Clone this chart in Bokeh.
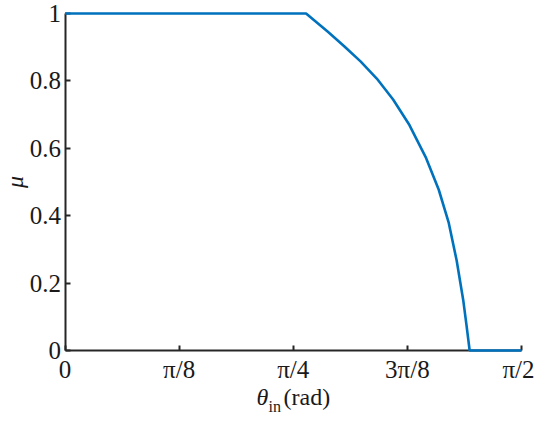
import math
from bokeh.plotting import figure
from bokeh.models import Range1d, FixedTicker, Label
from bokeh.embed import file_html
from bokeh.resources import INLINE

# data
theta = [0.0, 0.8295, 0.9045, 0.9607, 1.0169, 1.0728, 1.1290, 1.1852,
         1.2410, 1.2861, 1.3198, 1.3477, 1.3702, 1.3813, 1.3924, math.pi / 2]
mu = [1.0, 1.0, 0.946, 0.903, 0.858, 0.807, 0.745, 0.669,
      0.574, 0.477, 0.381, 0.267, 0.150, 0.077, 0.0, 0.0]

x_ticks = [0, math.pi / 8, math.pi / 4, 3 * math.pi / 8, math.pi / 2]
x_tick_labels = ["0", "π/8", "π/4", "3π/8", "π/2"]
y_ticks = [0, 0.2, 0.4, 0.6, 0.8, 1.0]
y_tick_labels = ["0", "0.2", "0.4", "0.6", "0.8", "1"]
X_MIN, X_MAX = 0.0, math.pi / 2
Y_MIN, Y_MAX = 0.0, 1.0

FONT = "Liberation Serif"
TXT = "#1a1a1a"
AX = "#262626"

# layout (pixels in the figure): where the axes box sits
W, H = 534, 417
LEFT_PX, RIGHT_PX = 64.5, 521.0
TOP_PX, BOTTOM_PX = 13.0, 350.0
PX_X = (RIGHT_PX - LEFT_PX) / (X_MAX - X_MIN)
PX_Y = (BOTTOM_PX - TOP_PX) / (Y_MAX - Y_MIN)
XR0 = X_MIN - LEFT_PX / PX_X
XR1 = X_MAX + (W - RIGHT_PX) / PX_X
YR0 = Y_MIN - (H - BOTTOM_PX) / PX_Y
YR1 = Y_MAX + TOP_PX / PX_Y


def dx(px):
    return XR0 + px / PX_X


def dy(py):
    return YR1 - py / PX_Y


p = figure(width=W, height=H, output_backend="svg", toolbar_location=None,
           x_range=Range1d(XR0, XR1), y_range=Range1d(YR0, YR1),
           min_border=0, min_border_left=0, min_border_right=0,
           min_border_top=0, min_border_bottom=0)
p.outline_line_color = None
p.grid.visible = False
p.background_fill_color = "white"
p.border_fill_color = "white"

r = p.line(theta, mu, line_color="#0072BD", line_width=2.6)
r.level = "overlay"

for ax in (p.xaxis[0], p.yaxis[0]):
    ax.fixed_location = 0
    ax.axis_line_color = AX
    ax.axis_line_width = 2
    ax.major_tick_line_color = AX
    ax.major_tick_line_width = 2
    ax.major_tick_in = 5
    ax.major_tick_out = 0
    ax.minor_tick_line_color = None
    ax.major_label_text_font = FONT
    ax.major_label_text_font_size = "25px"
    ax.major_label_text_color = TXT

p.xaxis[0].bounds = (X_MIN, X_MAX)
p.xaxis[0].ticker = FixedTicker(ticks=x_ticks)
p.xaxis[0].major_label_overrides = {t: l for t, l in zip(x_ticks, x_tick_labels)}
p.xaxis[0].major_label_standoff = 5
p.yaxis[0].bounds = (Y_MIN, Y_MAX)
p.yaxis[0].ticker = FixedTicker(ticks=y_ticks)
p.yaxis[0].major_label_overrides = {t: l for t, l in zip(y_ticks, y_tick_labels)}
p.yaxis[0].major_label_standoff = 4


def lab(px, py, text, size, style="normal", angle=0.0, align="left"):
    return Label(x=dx(px), y=dy(py), text=text, angle=angle,
                 text_font=FONT, text_font_style=style, text_font_size=size,
                 text_color=TXT, text_align=align, text_baseline="middle")


p.add_layout(lab(256, 396, "θ", "24px", "italic"))
p.add_layout(lab(268, 406, "in", "16px"))
p.add_layout(lab(283, 396, "(rad)", "24px"))
p.add_layout(lab(14, (TOP_PX + BOTTOM_PX) / 2, "μ", "24px", "italic",
                 angle=math.pi / 2, align="center"))

open("out.html", "w").write(file_html(p, INLINE))
